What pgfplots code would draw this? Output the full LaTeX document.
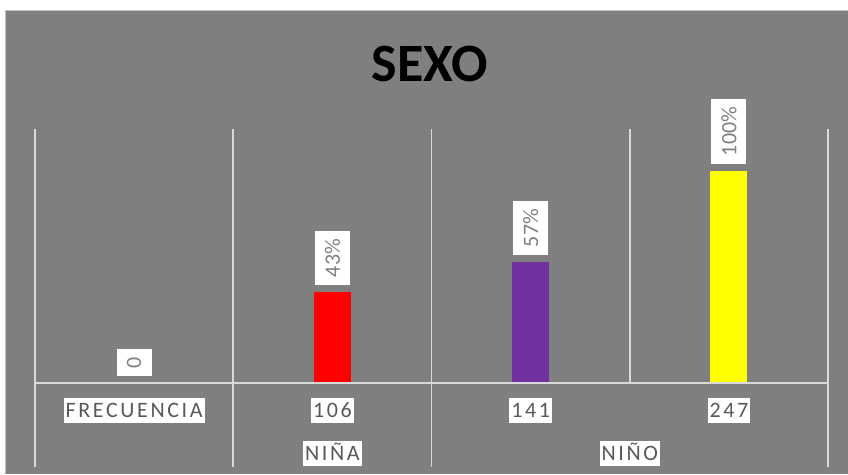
\documentclass[border=0pt]{standalone}
\usepackage{fontspec}
\setmainfont{Carlito}
\newfontfamily\spaced[LetterSpace=12]{Carlito}
\usepackage{pgfplots}
\pgfplotsset{compat=1.18}
\definecolor{bg}{HTML}{7F7F7F}
\definecolor{gridc}{HTML}{D9D9D9}
\definecolor{lbl}{HTML}{808080}
\definecolor{tickc}{HTML}{595959}
\definecolor{cred}{HTML}{FF0000}
\definecolor{cpurple}{HTML}{7030A0}
\definecolor{cyellow}{HTML}{FFFF00}
\begin{document}
\begin{tikzpicture}[x=1pt,y=1pt]
\useasboundingbox (0,0) rectangle (848,474);
\fill[white] (0,0) rectangle (848,474);
\fill[bg] (5,0) rectangle (848,464);
\draw[color=black!25, line width=1.2pt] (5.6,0) -- (5.6,463.4) -- (848,463.4);
\node[font=\fontsize{54}{54}\selectfont\bfseries, anchor=base, inner sep=0pt] at (430,392) {SEXO};
\begin{axis}[
  at={(35pt,91pt)}, anchor=south west,
  width=793pt, height=254pt, scale only axis,
  xmin=-0.5, xmax=3.5, ymin=0, ymax=296,
  clip=false,
  axis line style={draw=none},
  ytick=\empty,
  xtick={0,1,2,3},
  xticklabels={FRECUENCIA,106,141,247},
  major tick length=0pt,
  xticklabel style={anchor=center, yshift=-27.5pt, fill=white, text=tickc,
    font=\spaced\fontsize{22}{22}\selectfont, text height=14.2pt, text depth=0pt,
    inner ysep=5.4pt, inner xsep=2pt},
  ybar, bar width=37pt,
  nodes near coords, point meta=explicit symbolic,
  every node near coord/.append style={rotate=90, anchor=west, fill=white, text=lbl,
    font=\fontsize{22}{22}\selectfont, inner xsep=8pt, inner ysep=0pt,
    minimum height=35pt, outer xsep=7pt, outer ysep=0pt},
]
% grid lines
\draw[gridc, line width=1.6pt] (axis cs:-0.5,296) -- (axis cs:-0.5,-98);
\draw[gridc, line width=1.6pt] (axis cs:0.5,296) -- (axis cs:0.5,-98);
\draw[gridc, line width=1.6pt] (axis cs:1.5,296) -- (axis cs:1.5,-98);
\draw[gridc, line width=1.6pt] (axis cs:2.5,296) -- (axis cs:2.5,0);
\draw[gridc, line width=1.6pt] (axis cs:3.5,296) -- (axis cs:3.5,-98);
\addplot[draw=none, fill=none, bar shift=0pt] coordinates {(0,0) [0]};
\addplot[draw=none, fill=cred, bar shift=0pt] coordinates {(1,106) [43\%]};
\addplot[draw=none, fill=cpurple, bar shift=0pt] coordinates {(2,141) [57\%]};
\addplot[draw=none, fill=cyellow, bar shift=0pt] coordinates {(3,247) [100\%]};
\draw[gridc, line width=1.6pt] (axis cs:-0.5,0) -- (axis cs:3.5,0);
\node[fill=white, text=tickc, font=\spaced\fontsize{22}{22}\selectfont, text height=14.2pt,
  text depth=0pt, inner ysep=5.4pt, inner xsep=2pt] at ([yshift=-70pt]axis cs:1,0) {NIÑA};
\node[fill=white, text=tickc, font=\spaced\fontsize{22}{22}\selectfont, text height=14.2pt,
  text depth=0pt, inner ysep=5.4pt, inner xsep=2pt] at ([yshift=-70pt]axis cs:2.5,0) {NIÑO};
\end{axis}
\end{tikzpicture}
\end{document}
